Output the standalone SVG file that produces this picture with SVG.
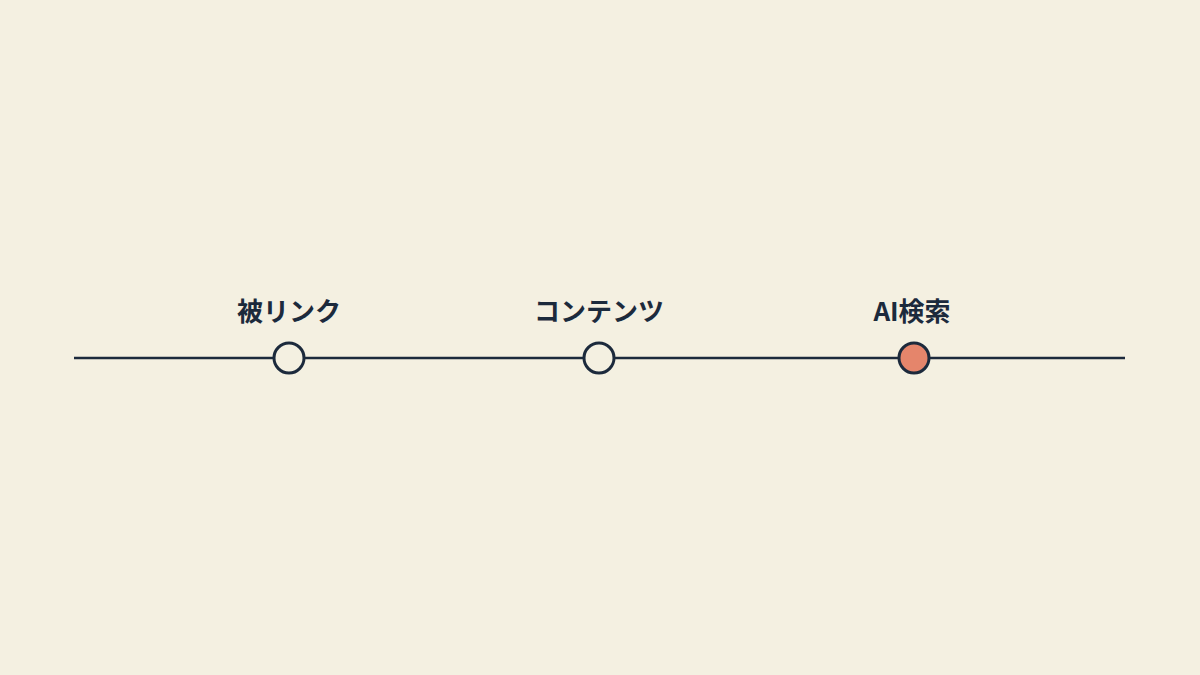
<svg xmlns="http://www.w3.org/2000/svg" width="1200" height="675" viewBox="0 0 1200 675">
<style>
.lbl{font-family:"Noto Sans CJK JP","Noto Sans",sans-serif;font-weight:700;font-size:26px;fill:#1c2a3c;text-anchor:middle}
.dot{stroke:#1c2a3c;stroke-width:3}
</style>
<rect width="1200" height="675" fill="#f4f0e1"/>
<g id="connectors">
<line x1="74" y1="358" x2="1125" y2="358" stroke="#1c2a3c" stroke-width="2.5"/>
</g>
<g id="node-backlinks">
<text class="lbl" x="289" y="321">被リンク</text>
<circle class="dot" cx="289" cy="358" r="15" fill="#f4f0e1"/>
</g>
<g id="node-content">
<text class="lbl" x="599" y="321">コンテンツ</text>
<circle class="dot" cx="599" cy="358" r="15" fill="#f4f0e1"/>
</g>
<g id="node-ai">
<text class="lbl" x="912" y="321">AI検索</text>
<circle class="dot" cx="914" cy="358" r="15" fill="#e5856b"/>
</g>
</svg>
